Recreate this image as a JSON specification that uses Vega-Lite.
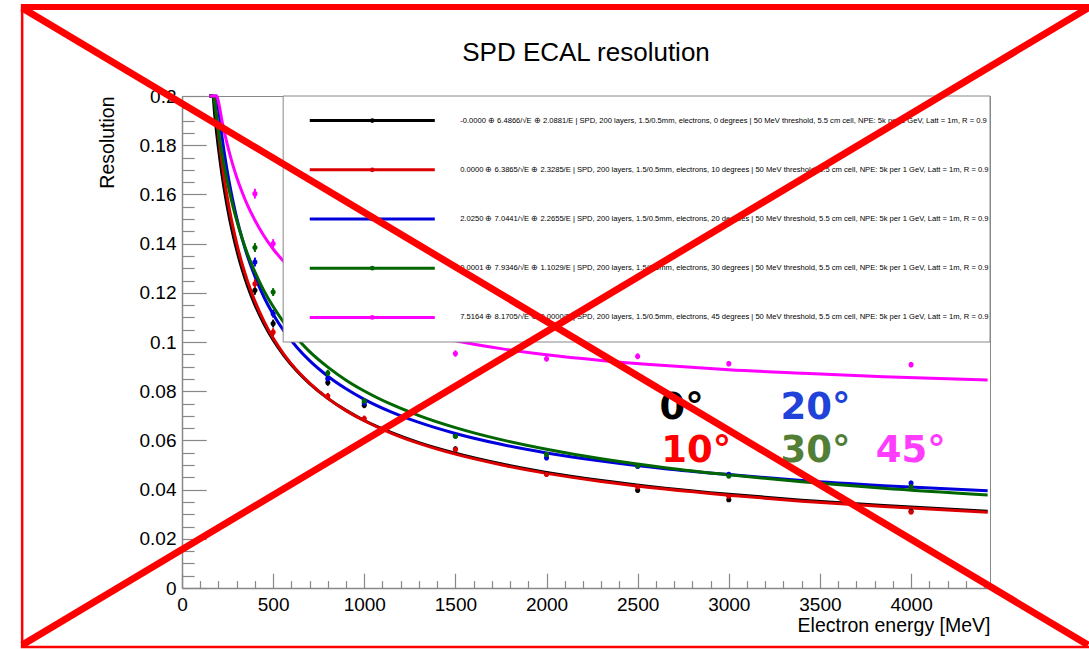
{
  "$schema": "https://vega.github.io/schema/vega-lite/v6.json",
  "width": 808,
  "height": 492,
  "autosize": {"type": "none"},
  "padding": {"left": 182, "top": 96, "right": 99, "bottom": 61},
  "background": "white",
  "title": {"text": "SPD ECAL resolution", "font": "Liberation Sans", "fontSize": 26, "fontWeight": "normal", "color": "black", "anchor": "middle", "frame": "group", "baseline": "alphabetic", "offset": -83.5},
  "config": {
    "view": {"stroke": "#888888", "strokeWidth": 1},
    "axis": {"labelFont": "Liberation Sans", "titleFont": "Liberation Sans", "labelColor": "black", "titleColor": "black", "tickColor": "#888888", "domainColor": "#888888", "domainWidth": 1.5, "tickWidth": 1.2, "grid": false, "labelFlush": false, "labelOverlap": false, "titleFontWeight": "normal"}
  },
  "datasets": {
    "fits": [
      {"s":"0°","E":150,"r":0.2178},{"s":"0°","E":160,"r":0.2082},{"s":"0°","E":170,"r":0.1996},{"s":"0°","E":180,"r":0.1919},{"s":"0°","E":190,"r":0.1850},{"s":"0°","E":200,"r":0.1787},{"s":"0°","E":220,"r":0.1677},{"s":"0°","E":240,"r":0.1584},{"s":"0°","E":260,"r":0.1504},{"s":"0°","E":280,"r":0.1435},{"s":"0°","E":300,"r":0.1374},{"s":"0°","E":330,"r":0.1294},{"s":"0°","E":360,"r":0.1227},{"s":"0°","E":400,"r":0.1151},{"s":"0°","E":450,"r":0.1073},{"s":"0°","E":500,"r":0.1008},{"s":"0°","E":560,"r":0.0944},{"s":"0°","E":630,"r":0.0882},{"s":"0°","E":700,"r":0.0831},{"s":"0°","E":800,"r":0.0771},{"s":"0°","E":900,"r":0.0722},{"s":"0°","E":1000,"r":0.0681},{"s":"0°","E":1150,"r":0.0632},{"s":"0°","E":1300,"r":0.0591},{"s":"0°","E":1500,"r":0.0548},{"s":"0°","E":1750,"r":0.0505},{"s":"0°","E":2000,"r":0.0470},{"s":"0°","E":2300,"r":0.0437},{"s":"0°","E":2650,"r":0.0406},{"s":"0°","E":3000,"r":0.0381},{"s":"0°","E":3400,"r":0.0357},{"s":"0°","E":3850,"r":0.0335},{"s":"0°","E":4420,"r":0.0312},
      {"s":"10°","E":150,"r":0.2265},{"s":"10°","E":160,"r":0.2160},{"s":"10°","E":170,"r":0.2068},{"s":"10°","E":180,"r":0.1985},{"s":"10°","E":190,"r":0.1910},{"s":"10°","E":200,"r":0.1843},{"s":"10°","E":220,"r":0.1725},{"s":"10°","E":240,"r":0.1625},{"s":"10°","E":260,"r":0.1540},{"s":"10°","E":280,"r":0.1466},{"s":"10°","E":300,"r":0.1401},{"s":"10°","E":330,"r":0.1317},{"s":"10°","E":360,"r":0.1246},{"s":"10°","E":400,"r":0.1166},{"s":"10°","E":450,"r":0.1084},{"s":"10°","E":500,"r":0.1016},{"s":"10°","E":560,"r":0.0949},{"s":"10°","E":630,"r":0.0885},{"s":"10°","E":700,"r":0.0833},{"s":"10°","E":800,"r":0.0771},{"s":"10°","E":900,"r":0.0721},{"s":"10°","E":1000,"r":0.0680},{"s":"10°","E":1150,"r":0.0629},{"s":"10°","E":1300,"r":0.0588},{"s":"10°","E":1500,"r":0.0544},{"s":"10°","E":1750,"r":0.0501},{"s":"10°","E":2000,"r":0.0466},{"s":"10°","E":2300,"r":0.0433},{"s":"10°","E":2650,"r":0.0402},{"s":"10°","E":3000,"r":0.0377},{"s":"10°","E":3400,"r":0.0353},{"s":"10°","E":3850,"r":0.0331},{"s":"10°","E":4420,"r":0.0308},
      {"s":"20°","E":150,"r":0.2373},{"s":"20°","E":160,"r":0.2269},{"s":"20°","E":170,"r":0.2176},{"s":"20°","E":180,"r":0.2093},{"s":"20°","E":190,"r":0.2018},{"s":"20°","E":200,"r":0.1951},{"s":"20°","E":220,"r":0.1832},{"s":"20°","E":240,"r":0.1732},{"s":"20°","E":260,"r":0.1646},{"s":"20°","E":280,"r":0.1571},{"s":"20°","E":300,"r":0.1505},{"s":"20°","E":330,"r":0.1420},{"s":"20°","E":360,"r":0.1347},{"s":"20°","E":400,"r":0.1266},{"s":"20°","E":450,"r":0.1182},{"s":"20°","E":500,"r":0.1113},{"s":"20°","E":560,"r":0.1044},{"s":"20°","E":630,"r":0.0979},{"s":"20°","E":700,"r":0.0924},{"s":"20°","E":800,"r":0.0861},{"s":"20°","E":900,"r":0.0810},{"s":"20°","E":1000,"r":0.0767},{"s":"20°","E":1150,"r":0.0715},{"s":"20°","E":1300,"r":0.0673},{"s":"20°","E":1500,"r":0.0628},{"s":"20°","E":1750,"r":0.0584},{"s":"20°","E":2000,"r":0.0549},{"s":"20°","E":2300,"r":0.0516},{"s":"20°","E":2650,"r":0.0485},{"s":"20°","E":3000,"r":0.0461},{"s":"20°","E":3400,"r":0.0437},{"s":"20°","E":3850,"r":0.0416},{"s":"20°","E":4420,"r":0.0395},
      {"s":"30°","E":150,"r":0.2177},{"s":"30°","E":160,"r":0.2100},{"s":"30°","E":170,"r":0.2031},{"s":"30°","E":180,"r":0.1968},{"s":"30°","E":190,"r":0.1911},{"s":"30°","E":200,"r":0.1858},{"s":"30°","E":220,"r":0.1764},{"s":"30°","E":240,"r":0.1684},{"s":"30°","E":260,"r":0.1613},{"s":"30°","E":280,"r":0.1550},{"s":"30°","E":300,"r":0.1495},{"s":"30°","E":330,"r":0.1421},{"s":"30°","E":360,"r":0.1357},{"s":"30°","E":400,"r":0.1285},{"s":"30°","E":450,"r":0.1208},{"s":"30°","E":500,"r":0.1144},{"s":"30°","E":560,"r":0.1078},{"s":"30°","E":630,"r":0.1015},{"s":"30°","E":700,"r":0.0961},{"s":"30°","E":800,"r":0.0898},{"s":"30°","E":900,"r":0.0845},{"s":"30°","E":1000,"r":0.0801},{"s":"30°","E":1150,"r":0.0746},{"s":"30°","E":1300,"r":0.0701},{"s":"30°","E":1500,"r":0.0652},{"s":"30°","E":1750,"r":0.0603},{"s":"30°","E":2000,"r":0.0564},{"s":"30°","E":2300,"r":0.0525},{"s":"30°","E":2650,"r":0.0489},{"s":"30°","E":3000,"r":0.0460},{"s":"30°","E":3400,"r":0.0432},{"s":"30°","E":3850,"r":0.0405},{"s":"30°","E":4420,"r":0.0378},
      {"s":"45°","E":150,"r":0.2240},{"s":"45°","E":160,"r":0.2177},{"s":"45°","E":170,"r":0.2119},{"s":"45°","E":180,"r":0.2067},{"s":"45°","E":190,"r":0.2020},{"s":"45°","E":200,"r":0.1976},{"s":"45°","E":220,"r":0.1897},{"s":"45°","E":240,"r":0.1829},{"s":"45°","E":260,"r":0.1770},{"s":"45°","E":280,"r":0.1717},{"s":"45°","E":300,"r":0.1670},{"s":"45°","E":330,"r":0.1609},{"s":"45°","E":360,"r":0.1555},{"s":"45°","E":400,"r":0.1495},{"s":"45°","E":450,"r":0.1431},{"s":"45°","E":500,"r":0.1378},{"s":"45°","E":560,"r":0.1326},{"s":"45°","E":630,"r":0.1275},{"s":"45°","E":700,"r":0.1232},{"s":"45°","E":800,"r":0.1183},{"s":"45°","E":900,"r":0.1143},{"s":"45°","E":1000,"r":0.1110},{"s":"45°","E":1150,"r":0.1070},{"s":"45°","E":1300,"r":0.1039},{"s":"45°","E":1500,"r":0.1005},{"s":"45°","E":1750,"r":0.0973},{"s":"45°","E":2000,"r":0.0948},{"s":"45°","E":2300,"r":0.0925},{"s":"45°","E":2650,"r":0.0904},{"s":"45°","E":3000,"r":0.0887},{"s":"45°","E":3400,"r":0.0873},{"s":"45°","E":3850,"r":0.0859},{"s":"45°","E":4420,"r":0.0846}
    ],
    "meas": [
      {"s":"0°","E":400,"r":0.121,"err":0.0018},{"s":"0°","E":500,"r":0.1075,"err":0.0016},{"s":"0°","E":800,"r":0.0835,"err":0.0013},{"s":"0°","E":1000,"r":0.0743,"err":0.0012},{"s":"0°","E":1500,"r":0.0565,"err":0.0011},{"s":"0°","E":2000,"r":0.0465,"err":0.001},{"s":"0°","E":2500,"r":0.0397,"err":0.001},{"s":"0°","E":3000,"r":0.0359,"err":0.0009},{"s":"0°","E":4000,"r":0.0312,"err":0.0009},
      {"s":"10°","E":400,"r":0.1237,"err":0.0018},{"s":"10°","E":500,"r":0.104,"err":0.0016},{"s":"10°","E":800,"r":0.078,"err":0.0013},{"s":"10°","E":1000,"r":0.0689,"err":0.0012},{"s":"10°","E":1500,"r":0.0563,"err":0.0011},{"s":"10°","E":2000,"r":0.0462,"err":0.001},{"s":"10°","E":2500,"r":0.0411,"err":0.001},{"s":"10°","E":3000,"r":0.0373,"err":0.0009},{"s":"10°","E":4000,"r":0.0309,"err":0.0009},
      {"s":"20°","E":400,"r":0.1325,"err":0.0018},{"s":"20°","E":500,"r":0.1115,"err":0.0016},{"s":"20°","E":800,"r":0.0851,"err":0.0013},{"s":"20°","E":1000,"r":0.0752,"err":0.0012},{"s":"20°","E":1500,"r":0.062,"err":0.0011},{"s":"20°","E":2000,"r":0.0529,"err":0.001},{"s":"20°","E":2500,"r":0.0495,"err":0.001},{"s":"20°","E":3000,"r":0.0462,"err":0.0009},{"s":"20°","E":4000,"r":0.0427,"err":0.0009},
      {"s":"30°","E":400,"r":0.1384,"err":0.0018},{"s":"30°","E":500,"r":0.1203,"err":0.0016},{"s":"30°","E":800,"r":0.0874,"err":0.0013},{"s":"30°","E":1000,"r":0.076,"err":0.0012},{"s":"30°","E":1500,"r":0.0617,"err":0.0011},{"s":"30°","E":2000,"r":0.0543,"err":0.001},{"s":"30°","E":2500,"r":0.0497,"err":0.001},{"s":"30°","E":3000,"r":0.0455,"err":0.0009},{"s":"30°","E":4000,"r":0.0411,"err":0.0009},
      {"s":"45°","E":400,"r":0.1603,"err":0.002},{"s":"45°","E":500,"r":0.14,"err":0.0018},{"s":"45°","E":1500,"r":0.0953,"err":0.0013},{"s":"45°","E":2000,"r":0.0932,"err":0.0012},{"s":"45°","E":2500,"r":0.0942,"err":0.0012},{"s":"45°","E":3000,"r":0.0912,"err":0.0011},{"s":"45°","E":4000,"r":0.0908,"err":0.0011}
    ],
    "entries": [
      {"s":"0°","ly":0.19,"label":"-0.0000 ⊕ 6.4866/√E ⊕ 2.0881/E  | SPD, 200 layers, 1.5/0.5mm, electrons, 0 degrees | 50 MeV threshold, 5.5 cm cell, NPE: 5k per 1 GeV, Latt = 1m, R = 0.9"},
      {"s":"10°","ly":0.17,"label":"0.0000 ⊕ 6.3865/√E ⊕ 2.3285/E | SPD, 200 layers, 1.5/0.5mm, electrons, 10 degrees | 50 MeV threshold, 5.5 cm cell, NPE: 5k per 1 GeV, Latt = 1m, R = 0.9"},
      {"s":"20°","ly":0.15,"label":"2.0250 ⊕ 7.0441/√E ⊕ 2.2655/E | SPD, 200 layers, 1.5/0.5mm, electrons, 20 degrees | 50 MeV threshold, 5.5 cm cell, NPE: 5k per 1 GeV, Latt = 1m, R = 0.9"},
      {"s":"30°","ly":0.13,"label":"0.0001 ⊕ 7.9346/√E ⊕ 1.1029/E | SPD, 200 layers, 1.5/0.5mm, electrons, 30 degrees | 50 MeV threshold, 5.5 cm cell, NPE: 5k per 1 GeV, Latt = 1m, R = 0.9"},
      {"s":"45°","ly":0.11,"label":"7.5164 ⊕ 8.1705/√E ⊕ 0.0000/E | SPD, 200 layers, 1.5/0.5mm, electrons, 45 degrees | 50 MeV threshold, 5.5 cm cell, NPE: 5k per 1 GeV, Latt = 1m, R = 0.9"}
    ],
    "angles": [
      {"s":"0°","E":2620,"r":0.0685},
      {"s":"10°","E":2630,"r":0.0512},
      {"s":"20°","E":3283,"r":0.0685},
      {"s":"30°","E":3283,"r":0.0512},
      {"s":"45°","E":3806,"r":0.0512}
    ],
    "crossLines": [
      {"e1":-877,"r1":0.2358,"e2":4971,"r2":-0.0232},
      {"e1":4971,"r1":0.2358,"e2":-877,"r2":-0.0232}
    ],
    "topEdge": [
      {"e1":-884,"r1":0.2362,"e2":5100,"r2":0.2362}
    ],
    "sideEdges": [
      {"e1":-877,"r1":0.2362,"e2":-877,"r2":-0.024},
      {"e1":-884,"r1":-0.024,"e2":5100,"r2":-0.024}
    ]
  },
  "layer": [
    {
      "layer": [
        {
          "data": {"name": "fits"},
          "mark": {"type": "line", "strokeWidth": 3, "interpolate": "monotone"},
          "encoding": {
            "x": {"field": "E", "type": "quantitative", "scale": {"domain": [0, 4433], "nice": false, "zero": false},
              "axis": {"orient": "bottom", "values": [0, 500, 1000, 1500, 2000, 2500, 3000, 3500, 4000], "format": "d", "tickSize": -14.8, "labelFontSize": 19, "labelPadding": 22.4, "title": "Electron energy [MeV]", "titleFontSize": 19.5, "titleAnchor": "end", "titlePadding": 2}},
            "y": {"field": "r", "type": "quantitative", "scale": {"domain": [0, 0.2], "nice": false, "zero": false, "clamp": true},
              "axis": {"orient": "left", "values": [0, 0.02, 0.04, 0.06, 0.08, 0.1, 0.12, 0.14, 0.16, 0.18, 0.2], "format": "~g", "tickSize": -24.2, "labelFontSize": 19, "labelPadding": 30.2, "title": "Resolution", "titleFontSize": 19.5, "titleAnchor": "end", "titlePadding": 22}},
            "color": {"field": "s", "type": "nominal", "scale": {"domain": ["0°", "10°", "20°", "30°", "45°"], "range": ["#000000", "#dd0000", "#0000dd", "#006600", "#ff00ff"]}, "legend": null}
          }
        },
        {
          "data": {"name": "meas"},
          "mark": {"type": "errorbar", "thickness": 2, "ticks": false},
          "encoding": {
            "x": {"field": "E", "type": "quantitative", "scale": {"domain": [0, 4433], "nice": false, "zero": false}, "axis": null},
            "y": {"field": "r", "type": "quantitative", "scale": {"domain": [0, 0.2], "nice": false, "zero": false, "clamp": true}, "axis": null},
            "yError": {"field": "err"},
            "color": {"field": "s", "type": "nominal", "scale": {"domain": ["0°", "10°", "20°", "30°", "45°"], "range": ["#000000", "#dd0000", "#0000dd", "#006600", "#ff00ff"]}, "legend": null}
          }
        },
        {
          "data": {"name": "meas"},
          "mark": {"type": "circle", "size": 26, "opacity": 1},
          "encoding": {
            "x": {"field": "E", "type": "quantitative", "scale": {"domain": [0, 4433], "nice": false, "zero": false},
              "axis": {"orient": "bottom", "values": [100, 200, 300, 400, 600, 700, 800, 900, 1100, 1200, 1300, 1400, 1600, 1700, 1800, 1900, 2100, 2200, 2300, 2400, 2600, 2700, 2800, 2900, 3100, 3200, 3300, 3400, 3600, 3700, 3800, 3900, 4100, 4200, 4300, 4400], "tickSize": -7.4, "labels": false, "domain": false, "title": null}},
            "y": {"field": "r", "type": "quantitative", "scale": {"domain": [0, 0.2], "nice": false, "zero": false, "clamp": true},
              "axis": {"orient": "left", "values": [0.005, 0.01, 0.015, 0.025, 0.03, 0.035, 0.045, 0.05, 0.055, 0.065, 0.07, 0.075, 0.085, 0.09, 0.095, 0.105, 0.11, 0.115, 0.125, 0.13, 0.135, 0.145, 0.15, 0.155, 0.165, 0.17, 0.175, 0.185, 0.19, 0.195], "tickSize": -12.1, "labels": false, "domain": false, "title": null}},
            "color": {"field": "s", "type": "nominal", "scale": {"domain": ["0°", "10°", "20°", "30°", "45°"], "range": ["#000000", "#dd0000", "#0000dd", "#006600", "#ff00ff"]}, "legend": null}
          }
        },
        {
          "data": {"values": [{"box": "legend"}]},
          "mark": {"type": "rect", "fill": "white", "stroke": "#888888", "strokeWidth": 1},
          "encoding": {
            "x": {"datum": 555, "type": "quantitative", "scale": {"domain": [0, 4433], "nice": false, "zero": false}, "axis": null},
            "x2": {"datum": 4433},
            "y": {"datum": 0.1, "type": "quantitative", "scale": {"domain": [0, 0.2], "nice": false, "zero": false, "clamp": true}, "axis": null},
            "y2": {"datum": 0.2}
          }
        },
        {
          "data": {"name": "entries"},
          "mark": {"type": "rule", "strokeWidth": 3},
          "encoding": {
            "x": {"datum": 701, "type": "quantitative", "scale": {"domain": [0, 4433], "nice": false, "zero": false}, "axis": null},
            "x2": {"datum": 1387},
            "y": {"field": "ly", "type": "quantitative", "scale": {"domain": [0, 0.2], "nice": false, "zero": false, "clamp": true}, "axis": null},
            "color": {"field": "s", "type": "nominal", "scale": {"domain": ["0°", "10°", "20°", "30°", "45°"], "range": ["#000000", "#dd0000", "#0000dd", "#006600", "#ff00ff"]}, "legend": null}
          }
        },
        {
          "data": {"name": "entries"},
          "mark": {"type": "circle", "size": 22, "opacity": 1},
          "encoding": {
            "x": {"datum": 1044, "type": "quantitative", "scale": {"domain": [0, 4433], "nice": false, "zero": false}, "axis": null},
            "y": {"field": "ly", "type": "quantitative", "scale": {"domain": [0, 0.2], "nice": false, "zero": false, "clamp": true}, "axis": null},
            "color": {"field": "s", "type": "nominal", "scale": {"domain": ["0°", "10°", "20°", "30°", "45°"], "range": ["#000000", "#dd0000", "#0000dd", "#006600", "#ff00ff"]}, "legend": null}
          }
        },
        {
          "data": {"name": "entries"},
          "mark": {"type": "text", "align": "left", "baseline": "middle", "font": "Liberation Sans", "fontSize": 7.6, "color": "black"},
          "encoding": {
            "x": {"datum": 1526, "type": "quantitative", "scale": {"domain": [0, 4433], "nice": false, "zero": false}, "axis": null},
            "y": {"field": "ly", "type": "quantitative", "scale": {"domain": [0, 0.2], "nice": false, "zero": false, "clamp": true}, "axis": null},
            "text": {"field": "label"}
          }
        },
        {
          "data": {"name": "angles"},
          "mark": {"type": "text", "align": "left", "baseline": "alphabetic", "font": "DejaVu Sans", "fontWeight": "bold", "fontSize": 37},
          "encoding": {
            "x": {"field": "E", "type": "quantitative", "scale": {"domain": [0, 4433], "nice": false, "zero": false}, "axis": null},
            "y": {"field": "r", "type": "quantitative", "scale": {"domain": [0, 0.2], "nice": false, "zero": false, "clamp": true}, "axis": null},
            "text": {"field": "s"},
            "color": {"field": "s", "type": "nominal", "scale": {"domain": ["0°", "10°", "20°", "30°", "45°"], "range": ["#000000", "#ff0000", "#2142d8", "#527f35", "#ff3dff"]}, "legend": null}
          }
        }
      ],
      "resolve": {"axis": {"x": "independent", "y": "independent"}, "scale": {"color": "independent"}}
    },
    {
      "layer": [
        {
          "data": {"name": "crossLines"},
          "mark": {"type": "rule", "color": "#ff0000", "strokeWidth": 7, "strokeCap": "butt"},
          "encoding": {
            "x": {"field": "e1", "type": "quantitative", "scale": {"domain": [0, 4433], "nice": false, "zero": false}, "axis": null},
            "y": {"field": "r1", "type": "quantitative", "scale": {"domain": [0, 0.2], "nice": false, "zero": false}, "axis": null},
            "x2": {"field": "e2"},
            "y2": {"field": "r2"}
          }
        },
        {
          "data": {"name": "topEdge"},
          "mark": {"type": "rule", "color": "#ff0000", "strokeWidth": 6, "strokeCap": "butt"},
          "encoding": {
            "x": {"field": "e1", "type": "quantitative", "scale": {"domain": [0, 4433], "nice": false, "zero": false}, "axis": null},
            "y": {"field": "r1", "type": "quantitative", "scale": {"domain": [0, 0.2], "nice": false, "zero": false}, "axis": null},
            "x2": {"field": "e2"},
            "y2": {"field": "r2"}
          }
        },
        {
          "data": {"name": "sideEdges"},
          "mark": {"type": "rule", "color": "#ff0000", "strokeWidth": 2.5, "strokeCap": "butt"},
          "encoding": {
            "x": {"field": "e1", "type": "quantitative", "scale": {"domain": [0, 4433], "nice": false, "zero": false}, "axis": null},
            "y": {"field": "r1", "type": "quantitative", "scale": {"domain": [0, 0.2], "nice": false, "zero": false}, "axis": null},
            "x2": {"field": "e2"},
            "y2": {"field": "r2"}
          }
        }
      ]
    }
  ],
  "resolve": {"scale": {"x": "independent", "y": "independent"}}
}
